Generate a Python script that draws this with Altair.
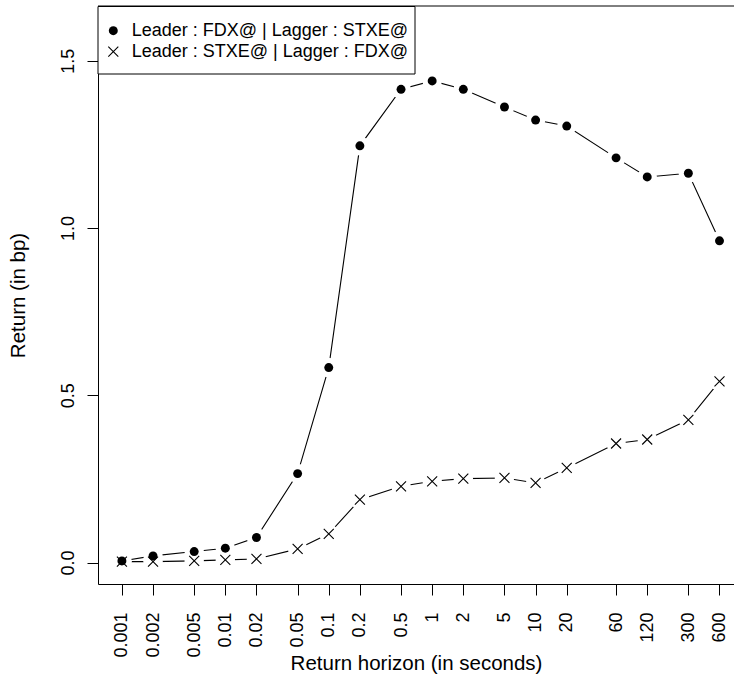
import math
import altair as alt
import pandas as pd

# Return horizons (seconds) and mean lead-lag returns (bp)
horizons = [0.001, 0.002, 0.005, 0.01, 0.02, 0.05, 0.1, 0.2, 0.5,
            1, 2, 5, 10, 20, 60, 120, 300, 600]
fdx_leads = [0.005, 0.020, 0.033, 0.043, 0.075, 0.266, 0.583, 1.246, 1.415,
             1.440, 1.415, 1.362, 1.323, 1.305, 1.210, 1.153, 1.164, 0.962]
stxe_leads = [0.003, 0.003, 0.005, 0.008, 0.011, 0.041, 0.086, 0.188, 0.228,
              0.243, 0.251, 0.253, 0.238, 0.283, 0.356, 0.368, 0.427, 0.542]
series_names = ["Leader : FDX@ | Lagger : STXE@",
                "Leader : STXE@ | Lagger : FDX@"]
y_ticks = [0.0, 0.5, 1.0, 1.5]

FONT = "Liberation Sans"
FS = 18
FS_TITLE = 20.5
W, H = 636, 578
LEFT, TOP, BOTTOM = 98, 6, 93

# R-style 4% expansion of the axis ranges
lo = math.log10(min(horizons))
hi = math.log10(max(horizons))
span = hi - lo
x_lo = lo - 0.04 * span
x_hi_full = hi + 0.04 * span
full_w = 645.4
x_hi = x_lo + (x_hi_full - x_lo) * W / full_w
x_domain = [10 ** x_lo, 10 ** x_hi]
y_domain = [-0.064, 1.664]

df = pd.DataFrame({
    "horizon": horizons * 2,
    "ret": fdx_leads + stxe_leads,
    "series": [series_names[0]] * len(horizons) + [series_names[1]] * len(horizons),
})
one = pd.DataFrame({"k": [0]})

x_enc = alt.X("horizon:Q",
              scale=alt.Scale(type="log", domain=x_domain, nice=False, zero=False),
              axis=alt.Axis(values=horizons, format="~g", labelAngle=270,
                            labelAlign="right", labelBaseline="middle",
                            labelOverlap=False, labelFlush=False,
                            tickSize=11, labelPadding=17, grid=False,
                            title="Return horizon (in seconds)",
                            titleY=79, titleBaseline="middle",
                            titleFontWeight="normal"))
y_enc = alt.Y("ret:Q",
              scale=alt.Scale(domain=y_domain, nice=False, zero=False),
              axis=alt.Axis(values=y_ticks, format=".1f", labelAngle=270,
                            labelAlign="center", labelBaseline="bottom",
                            tickSize=11, labelPadding=10, grid=False,
                            title="Return (in bp)", titleAngle=270,
                            titleX=-80, titleY=H / 2, titleBaseline="middle",
                            titleAlign="center", titleFontWeight="normal"))

base = alt.Chart(df).encode(x=x_enc, y=y_enc)

lines = base.mark_line(color="black", strokeWidth=1.1).encode(
    detail="series:N")

# white halos leave the small gaps around each point
halos = base.mark_point(shape="circle", filled=True, color="white",
                        opacity=1, size=380)

dots = base.transform_filter(
    alt.datum.series == series_names[0]
).mark_point(shape="circle", filled=True, color="black", opacity=1, size=80)

cross_path = "M-1,-1L1,1M-1,1L1,-1"
crosses = base.transform_filter(
    alt.datum.series == series_names[1]
).mark_point(shape=cross_path, filled=False, color="black", opacity=1,
             size=100, strokeWidth=1.1)

# top edge of the plot frame
frame_top = alt.Chart(one).mark_rule(color="black", strokeWidth=1).encode(
    x=alt.value(0), x2=alt.value(W), y=alt.value(0))

# legend box in the top-left corner
legend_box = alt.Chart(one).mark_rect(fill="white", stroke="black",
                                      strokeWidth=1).encode(
    x=alt.value(0), x2=alt.value(317), y=alt.value(0.5), y2=alt.value(68))

legend_rows = [24.7, 45.7]
leg_dot = alt.Chart(one).mark_point(shape="circle", filled=True, color="black",
                                    opacity=1, size=80).encode(
    x=alt.value(15.3), y=alt.value(legend_rows[0]))
leg_cross = alt.Chart(one).mark_point(shape=cross_path, filled=False,
                                      color="black", opacity=1, size=100,
                                      strokeWidth=1.1).encode(
    x=alt.value(15.3), y=alt.value(legend_rows[1]))
leg_text = [
    alt.Chart(one).mark_text(text=name, font=FONT, fontSize=FS, align="left",
                             baseline="middle", color="black").encode(
        x=alt.value(33.7), y=alt.value(row))
    for name, row in zip(series_names, legend_rows)
]

chart = alt.layer(
    lines, halos, dots, crosses, frame_top,
    legend_box, leg_dot, leg_cross, *leg_text
).properties(
    width=W, height=H,
    autosize=alt.AutoSizeParams(type="none"),
    padding={"left": LEFT, "top": TOP, "right": 0, "bottom": BOTTOM},
    background="white",
).configure_view(
    stroke=None
).configure_axis(
    labelFont=FONT, titleFont=FONT, labelFontSize=FS, titleFontSize=FS_TITLE,
    labelColor="black", titleColor="black", tickColor="black",
    domainColor="black", domainWidth=1, tickWidth=1,
)

chart.save("out.html", embed_options={"renderer": "svg", "actions": False})
